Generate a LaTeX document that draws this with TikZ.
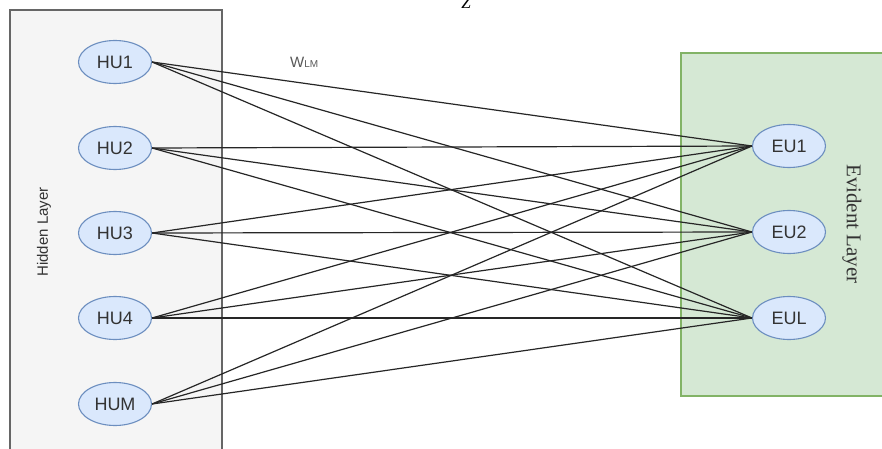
\documentclass[tikz,border=0pt]{standalone}
\usepackage{fontspec}
\setmainfont{Liberation Serif}
\setsansfont{Liberation Sans}
\usetikzlibrary{shapes.geometric}
\definecolor{hidfill}{HTML}{F5F5F5}
\definecolor{hiddraw}{HTML}{666666}
\definecolor{evfill}{HTML}{D5E8D4}
\definecolor{evdraw}{HTML}{82B366}
\definecolor{unitfill}{HTML}{DAE8FC}
\definecolor{unitdraw}{HTML}{6C8EBF}
\definecolor{txt}{HTML}{333333}
\tikzset{
  unit/.style={ellipse, draw=unitdraw, fill=unitfill, line width=1.1pt,
    minimum width=73pt, minimum height=43pt, inner sep=0pt,
    font=\sffamily\fontsize{18}{18}\selectfont, text=txt},
  link/.style={draw=black!85, line width=1.2pt},
}
\begin{document}
\begin{tikzpicture}[x=1pt,y=-1pt]
\useasboundingbox (0,0) rectangle (882,449);
\clip (0,0) rectangle (882,449);
\fill[white] (0,0) rectangle (882,449);
% layer boxes
\draw[fill=hidfill, draw=hiddraw, line width=1.1pt] (10,10) rectangle (222,460);
\draw[fill=evfill, draw=evdraw, line width=1.1pt] (681,53) rectangle (895,396);
% labels
\node[rotate=90, font=\sffamily\fontsize{15}{15}\selectfont, text=txt] (hl) at (44,232) {Hidden Layer};
\node[rotate=-90, font=\fontsize{21}{21}\selectfont, text=txt] (el) at (852,224) {Evident Layer};
\node[font=\fontsize{17}{17}\selectfont\itshape, anchor=base] (z) at (466,9) {Z};
\node[font=\sffamily\fontsize{15}{15}\selectfont, text=black!65, anchor=base west, inner sep=0pt] (w) at (290,68) {W{\fontsize{10}{10}\selectfont LM}};
% units
\node[unit] (h1) at (115,62) {HU1};
\node[unit] (h2) at (115,148) {HU2};
\node[unit] (h3) at (115,233) {HU3};
\node[unit] (h4) at (115,318) {HU4};
\node[unit] (hm) at (115,404) {HUM};
\node[unit] (e1) at (789,146) {EU1};
\node[unit] (e2) at (789,232) {EU2};
\node[unit] (el2) at (789,318) {EUL};
% links
\foreach \h in {h1,h2,h3,h4,hm}{
  \foreach \e in {e1,e2,el2}{
    \draw[link] (\h.east) -- (\e.west);
  }
}
\end{tikzpicture}
\end{document}
